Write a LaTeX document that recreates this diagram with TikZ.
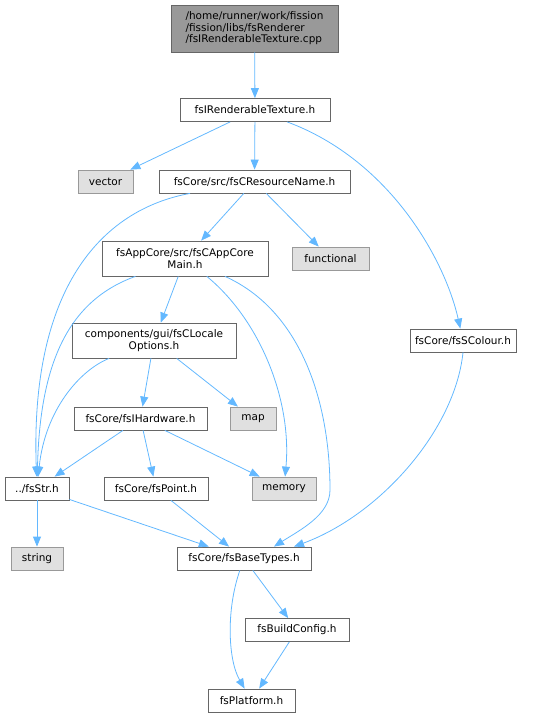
\documentclass[tikz,border=0pt]{standalone}
\usepackage{fontspec}
\setmainfont{DejaVu Sans}
\usetikzlibrary{shapes, arrows.meta}
\definecolor{edgeblue}{HTML}{63B8FF}
\definecolor{boxgray}{HTML}{666666}
\definecolor{sysgray}{HTML}{999999}
\definecolor{sysfill}{HTML}{E0E0E0}
\tikzstyle{header} = [rectangle, draw=boxgray, fill=white, line width=0.8pt, text centered, inner xsep=1pt, inner ysep=1pt, minimum height=23pt, font=\fontsize{10.5}{11.5}\selectfont]
\tikzstyle{syshdr} = [header, draw=sysgray, fill=sysfill]
\tikzstyle{source} = [header, draw=boxgray, fill=sysgray, align=left]
\tikzstyle{include} = [draw=edgeblue, line width=0.8pt, -{Triangle[length=10pt,width=8pt]}]

\begin{document}
\begin{tikzpicture}[x=1pt, y=-1pt] %um ponto por pixel, y para baixo

\useasboundingbox (0,0) rectangle (539,717);

%---------------------------------------------
%Arquivos do grafo de inclusao
%---------------------------------------------

\node [source, minimum width=167pt, minimum height=47pt] (raiz) at (254.5,28.5) {/home/runner/work/fission\\/fission/libs/fsRenderer\\/fsIRenderableTexture.cpp};
%arquivo fonte no topo, caixa cinza escura

\node [header, minimum width=150pt] (rtex) at (255,110) {fsIRenderableTexture.h};
\node [syshdr, minimum width=55pt] (vector) at (105.5,181.5) {vector};
\node [header, minimum width=191pt] (resname) at (254.5,181.5) {fsCore/src/fsCResourceName.h};
\node [header, minimum width=166pt, minimum height=35pt, align=center] (appmain) at (185,258.5) {fsAppCore/src/fsCAppCore\\Main.h};
\node [syshdr, minimum width=77pt] (functional) at (330.5,258.5) {functional};
\node [header, minimum width=164pt, minimum height=35pt, align=center] (locale) at (154,340.5) {components/gui/fsCLocale\\Options.h};
\node [header, minimum width=106pt] (colour) at (463,340.5) {fsCore/fsSColour.h};
\node [header, minimum width=133pt] (hardware) at (140.5,418.5) {fsCore/fsIHardware.h};
\node [syshdr, minimum width=46pt] (map) at (253,418.5) {map};
\node [header, minimum width=64pt] (str) at (37,488.5) {../fsStr.h};
\node [header, minimum width=104pt] (point) at (156,488.5) {fsCore/fsPoint.h};
\node [syshdr, minimum width=64pt] (memory) at (284,488.5) {memory};
\node [syshdr, minimum width=52pt] (string) at (37,558.5) {string};
\node [header, minimum width=134pt] (basetypes) at (244,558.5) {fsCore/fsBaseTypes.h};
\node [header, minimum width=104pt] (buildcfg) at (297,630) {fsBuildConfig.h};
\node [header, minimum width=87pt] (platform) at (251.5,700.5) {fsPlatform.h};

%---------------------------------------------
%Conexoes e flechas
%---------------------------------------------
\path [include] (raiz) -- (rtex);
\path [include] (rtex) -- (vector);
\path [include] (rtex) -- (resname);
\path [include] (rtex) .. controls (390,160) and (445,260) .. (colour);
\path [include] (resname) .. controls (100,210) and (30,290) .. (str);
\path [include] (resname) -- (appmain);
\path [include] (resname) -- (functional);
\path [include] (appmain) .. controls (70,300) and (40,360) .. (str);
\path [include] (appmain) -- (locale);
\path [include] (appmain) .. controls (260,320) and (292,400) .. (memory);
\path [include] (appmain) .. controls (300,310) and (330,400) .. (330,490) .. controls (330,515) and (300,530) .. ([xshift=30pt]basetypes.north);
\path [include] (locale) .. controls (80,370) and (45,410) .. (str);
\path [include] (locale) -- (hardware);
\path [include] (locale) -- (map);
\path [include] (hardware) -- (str);
\path [include] (hardware) -- (point);
\path [include] (hardware) -- (memory);
\path [include] (str) -- (string);
\path [include] (str) -- (basetypes);
\path [include] (point) -- (basetypes);
\path [include] (colour.south) .. controls (455,430) and (380,515) .. ([xshift=50pt]basetypes.north);
\path [include] (basetypes) -- (buildcfg);
\path [include] (basetypes) .. controls (226,610) and (228,660) .. (platform);
\path [include] (buildcfg) -- (platform);

\end{tikzpicture}
\end{document}
